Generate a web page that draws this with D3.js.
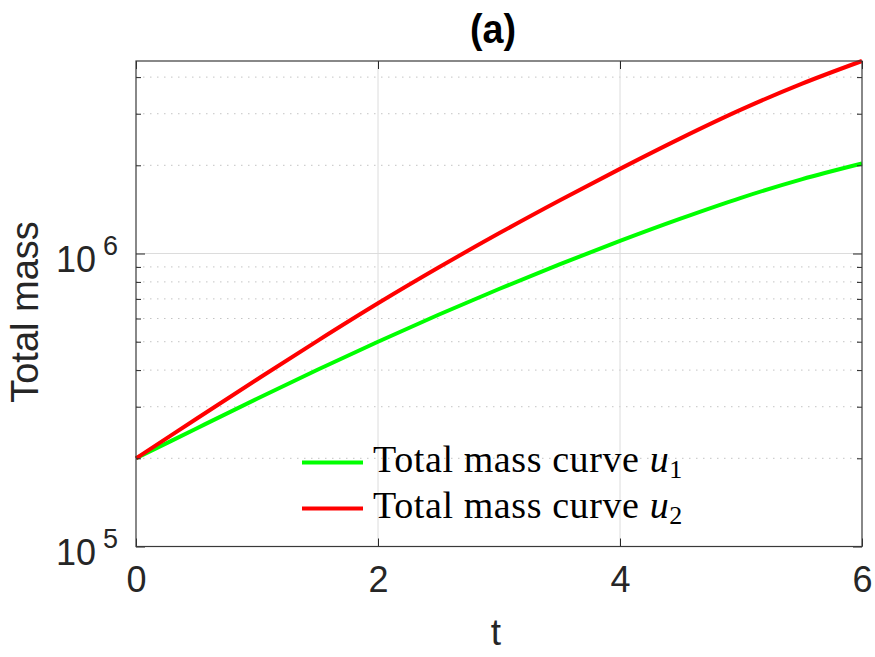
<!DOCTYPE html>
<html>
<head>
<meta charset="utf-8">
<title></title>
<style>
body { margin: 0; background: #fff; }
text { fill: #262626; font-family: "Liberation Sans", Arial, sans-serif; }
.legend text { font-family: "Liberation Serif", "Times New Roman", serif; fill: #000; }
</style>
</head>
<body>
<script src="https://cdn.jsdelivr.net/npm/d3@7/dist/d3.min.js"></script>
<script>

// values
var tValues = [0, 0.5, 1, 1.5, 2, 2.5, 3, 3.5, 4, 4.5, 5, 5.5, 6];
var massU1 = [2.0e5, 2.529e5, 3.192e5, 4.009e5, 5.0e5, 6.18e5, 7.568e5, 9.183e5, 1.104e6, 1.315e6, 1.549e6, 1.791e6, 2.028e6];
var massU2 = [2.0e5, 2.729e5, 3.715e5, 5.035e5, 6.761e5, 8.954e5, 1.172e6, 1.517e6, 1.945e6, 2.472e6, 3.097e6, 3.793e6, 4.54e6];
var xTicks = [0, 2, 4, 6];
var yMajor = [1e5, 1e6];
var yMinor = [2e5, 3e5, 4e5, 5e5, 6e5, 7e5, 8e5, 9e5, 2e6, 3e6, 4e6];
var seriesNames = ["Total mass curve ", "Total mass curve "];
var seriesSubs = ["1", "2"];
var seriesColors = ["#00ff00", "#ff0000"];

var width = 875, height = 657;
var margin = {left: 136, top: 61, right: 13, bottom: 110.5};
var w = width - margin.left - margin.right,
    h = height - margin.top - margin.bottom;

var svg = d3.select("body").append("svg")
    .attr("width", width)
    .attr("height", height);

var g = svg.append("g")
    .attr("transform", "translate(" + margin.left + "," + margin.top + ")");

var x = d3.scaleLinear().domain([0, 6]).range([0, w]);
var y = d3.scaleLog().domain([1e5, 4.54e6]).range([h, 0]);

// grid
g.append("g").selectAll("line.minor")
    .data(yMinor)
    .enter().append("line")
    .attr("x1", 0).attr("x2", w)
    .attr("y1", function(d) { return y(d); })
    .attr("y2", function(d) { return y(d); })
    .style("stroke", "#c4c4c4")
    .style("stroke-width", 1)
    .style("stroke-dasharray", "1.5,5.5");

g.append("g").selectAll("line.major")
    .data(yMajor.slice(1))
    .enter().append("line")
    .attr("x1", 0).attr("x2", w)
    .attr("y1", function(d) { return y(d); })
    .attr("y2", function(d) { return y(d); })
    .style("stroke", "#dcdcdc")
    .style("stroke-width", 1);

g.append("g").selectAll("line.xgrid")
    .data([2, 4])
    .enter().append("line")
    .attr("y1", 0).attr("y2", h)
    .attr("x1", function(d) { return x(d); })
    .attr("x2", function(d) { return x(d); })
    .style("stroke", "#dcdcdc")
    .style("stroke-width", 1);

// curves
var line = d3.line()
    .x(function(d) { return x(d[0]); })
    .y(function(d) { return y(d[1]); })
    .curve(d3.curveCatmullRom.alpha(0.5));

[massU1, massU2].forEach(function(vals, i) {
  g.append("path")
      .datum(tValues.map(function(t, j) { return [t, vals[j]]; }))
      .attr("d", line)
      .style("fill", "none")
      .style("stroke", seriesColors[i])
      .style("stroke-width", 4);
});

// axes (ticks inside, box on)
function styleAxis(sel) {
  sel.select(".domain").remove();
  sel.selectAll("line").style("stroke", "#262626");
}

g.append("g")
    .attr("transform", "translate(0," + h + ")")
    .call(d3.axisBottom(x).tickValues(xTicks).tickSize(-8).tickPadding(20).tickFormat(d3.format("d")))
    .call(styleAxis)
    .selectAll("text")
    .style("font-size", "36px")
    .style("font-family", "'Liberation Sans', Arial, sans-serif")
    .style("fill", "#262626");

g.append("g")
    .call(d3.axisTop(x).tickValues(xTicks).tickSize(-8).tickFormat(""))
    .call(styleAxis);

g.append("g")
    .call(d3.axisLeft(y).tickValues(yMajor).tickSize(-9).tickFormat(""))
    .call(styleAxis);
g.append("g")
    .call(d3.axisLeft(y).tickValues(yMinor).tickSize(-5).tickFormat(""))
    .call(styleAxis);
g.append("g")
    .attr("transform", "translate(" + w + ",0)")
    .call(d3.axisRight(y).tickValues(yMajor).tickSize(-9).tickFormat(""))
    .call(styleAxis);
g.append("g")
    .attr("transform", "translate(" + w + ",0)")
    .call(d3.axisRight(y).tickValues(yMinor).tickSize(-5).tickFormat(""))
    .call(styleAxis);

g.append("rect")
    .attr("width", w).attr("height", h)
    .style("fill", "none")
    .style("stroke", "#3a3a3a")
    .style("stroke-width", 1.2);

// y tick labels 10^n
var ylab = g.append("g").selectAll("text.ylab")
    .data(yMajor)
    .enter().append("text")
    .attr("x", -18)
    .attr("y", function(d) { return y(d) + 18; })
    .attr("text-anchor", "end")
    .style("font-size", "36px");
ylab.append("tspan").text("10");
ylab.append("tspan")
    .attr("dx", 7)
    .attr("dy", -17)
    .style("font-size", "27px")
    .text(function(d) { return Math.round(Math.log10(d)); });

// titles
svg.append("text")
    .attr("transform", "translate(493,43) scale(0.92,1)")
    .attr("text-anchor", "middle")
    .style("font-size", "41px")
    .style("font-weight", "bold")
    .style("fill", "#000")
    .text("(a)");

svg.append("text")
    .attr("x", margin.left + w / 2 - 3)
    .attr("y", 645)
    .attr("text-anchor", "middle")
    .style("font-size", "37px")
    .text("t");

svg.append("text")
    .attr("transform", "translate(38,312) rotate(-90)")
    .attr("text-anchor", "middle")
    .style("font-size", "38px")
    .text("Total mass");

// legend
var legend = g.append("g").attr("class", "legend");
var rows = legend.selectAll("g")
    .data(seriesNames)
    .enter().append("g")
    .attr("transform", function(d, i) { return "translate(0," + (401.5 + i * 46) + ")"; });

rows.append("line")
    .attr("x1", 166).attr("x2", 227)
    .attr("y1", 0).attr("y2", 0)
    .style("stroke", function(d, i) { return seriesColors[i]; })
    .style("stroke-width", 4);

var lt = rows.append("text")
    .attr("x", 237)
    .attr("y", 9.5)
    .style("font-size", "38px")
    .style("letter-spacing", "0.6px");
lt.append("tspan").text(function(d) { return d; });
lt.append("tspan").style("font-style", "italic").text("u");
lt.append("tspan")
    .attr("dy", 6)
    .style("font-size", "26px")
    .text(function(d, i) { return seriesSubs[i]; });

</script>
</body>
</html>
